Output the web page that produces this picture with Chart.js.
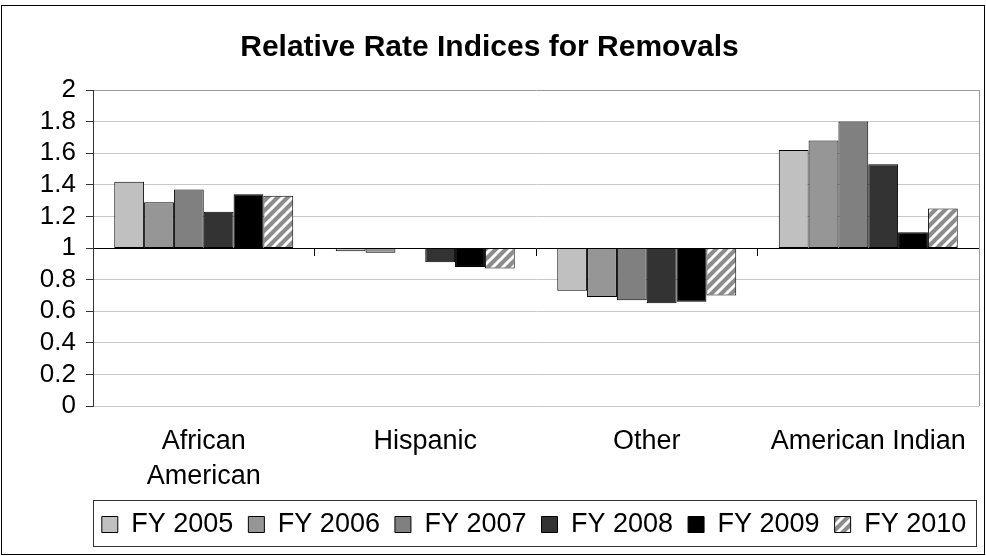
<!DOCTYPE html>
<html><head><meta charset="utf-8">
<script src="https://cdn.jsdelivr.net/npm/chart.js@4.4.0/dist/chart.umd.min.js"></script>
<style>html,body{margin:0;padding:0;background:#fff;} canvas{display:block;}</style>
</head><body>
<canvas id="c" width="986" height="556"></canvas>
<script>
const categories = [['African', 'American'], 'Hispanic', 'Other', 'American Indian'];
const seriesNames = ['FY 2005', 'FY 2006', 'FY 2007', 'FY 2008', 'FY 2009', 'FY 2010'];
const fy2005 = [1.42, 0.98, 0.73, 1.62];
const fy2006 = [1.29, 0.97, 0.69, 1.68];
const fy2007 = [1.37, 1.00, 0.67, 1.80];
const fy2008 = [1.23, 0.91, 0.65, 1.53];
const fy2009 = [1.34, 0.88, 0.66, 1.10];
const fy2010 = [1.33, 0.87, 0.70, 1.25];
const baseline = 1;
const yMin = 0, yMax = 2, yStep = 0.2;

const FONT = "'Liberation Sans', Arial, sans-serif";

function hatch() {
  const c = document.createElement('canvas');
  c.width = 10; c.height = 10;
  const g = c.getContext('2d');
  g.fillStyle = '#8c8c8c';
  g.fillRect(0, 0, 10, 10);
  g.strokeStyle = '#ffffff';
  g.lineWidth = 3;
  g.beginPath();
  g.moveTo(-5, 5); g.lineTo(5, -5);
  g.moveTo(0, 10); g.lineTo(10, 0);
  g.moveTo(5, 15); g.lineTo(15, 5);
  g.stroke();
  return g.createPattern(c, 'repeat');
}

const series = [fy2005, fy2006, fy2007, fy2008, fy2009, fy2010];
const fills = ['#c0c0c0', '#969696', '#808080', '#333333', '#000000', hatch()];

const framePlugin = {
  id: 'frame',
  afterLayout(chart) {
    // place the legend row under the plot area (as in the original)
    const lg = chart.legend;
    lg.left = 78;
    lg.right = 990;
  },
  afterDraw(chart) {
    const {ctx, chartArea: a, legend} = chart;
    ctx.save();
    ctx.lineWidth = 1;
    ctx.strokeStyle = '#999999';
    ctx.beginPath();
    const rx = Math.round(a.right) + 0.5;
    ctx.moveTo(rx, a.top);
    ctx.lineTo(rx, a.bottom);
    ctx.stroke();
    ctx.strokeStyle = '#333333';
    ctx.strokeRect(Math.round(a.left) + 0.5, Math.round(legend.top + 4) + 0.5,
                   Math.round(a.right - a.left - 3), 46);
    ctx.strokeStyle = '#000000';
    ctx.strokeRect(1.5, 5.5, 983, 549);
    ctx.restore();
  }
};

new Chart(document.getElementById('c'), {
  type: 'bar',
  data: {
    labels: categories,
    datasets: series.map((vals, i) => ({
      label: seriesNames[i],
      data: vals.map(v => [baseline, v]),
      backgroundColor: fills[i],
      borderColor: '#000000',
      borderWidth: 1,
      borderSkipped: false,
      categoryPercentage: 0.808,
      barPercentage: 1
    }))
  },
  options: {
    responsive: false,
    animation: false,
    devicePixelRatio: 1,
    layout: {padding: {left: 0, right: 7, top: 0, bottom: 8}},
    plugins: {
      title: {
        display: true,
        text: 'Relative Rate Indices for Removals',
        color: '#000000',
        font: {family: FONT, size: 30, weight: 'bold', lineHeight: 1.2},
        padding: {top: 29.5, bottom: 24.5}
      },
      legend: {
        position: 'bottom',
        fullSize: true,
        labels: {color: '#000000', font: {family: FONT, size: 27}, boxWidth: 16, boxHeight: 16, padding: 15}
      },
      tooltip: {enabled: false}
    },
    scales: {
      x: {
        type: 'category',
        position: 'bottom',
        grid: {display: false, drawTicks: false},
        border: {display: false},
        ticks: {color: '#000000', font: {family: FONT, size: 27, lineHeight: 1.3}, padding: 17.5, maxRotation: 0, autoSkip: false},
        afterFit: s => { s.height = 90; }
      },
      xBase: {
        type: 'category',
        position: {y: baseline},
        offset: true,
        z: 1,
        grid: {display: true, offset: true, drawOnChartArea: false, drawTicks: true, tickLength: 7, color: '#000000', tickColor: '#000000'},
        border: {display: true, color: '#000000', width: 1},
        ticks: {display: false}
      },
      y: {
        min: yMin,
        max: yMax,
        ticks: {stepSize: yStep, autoSkip: false, color: '#000000', font: {family: FONT, size: 26}, padding: 10,
                callback: v => String(Math.round(v * 10) / 10)},
        grid: {
          color: c => (c.tick && Math.abs(c.tick.value - yMax) < 1e-9) ? '#999999' : '#c8c8c8',
          tickColor: '#333333', tickLength: 7, lineWidth: 1
        },
        border: {color: '#333333', width: 1},
        afterFit: s => { s.width = 93; }
      }
    }
  },
  plugins: [framePlugin]
});
</script>
</body></html>
